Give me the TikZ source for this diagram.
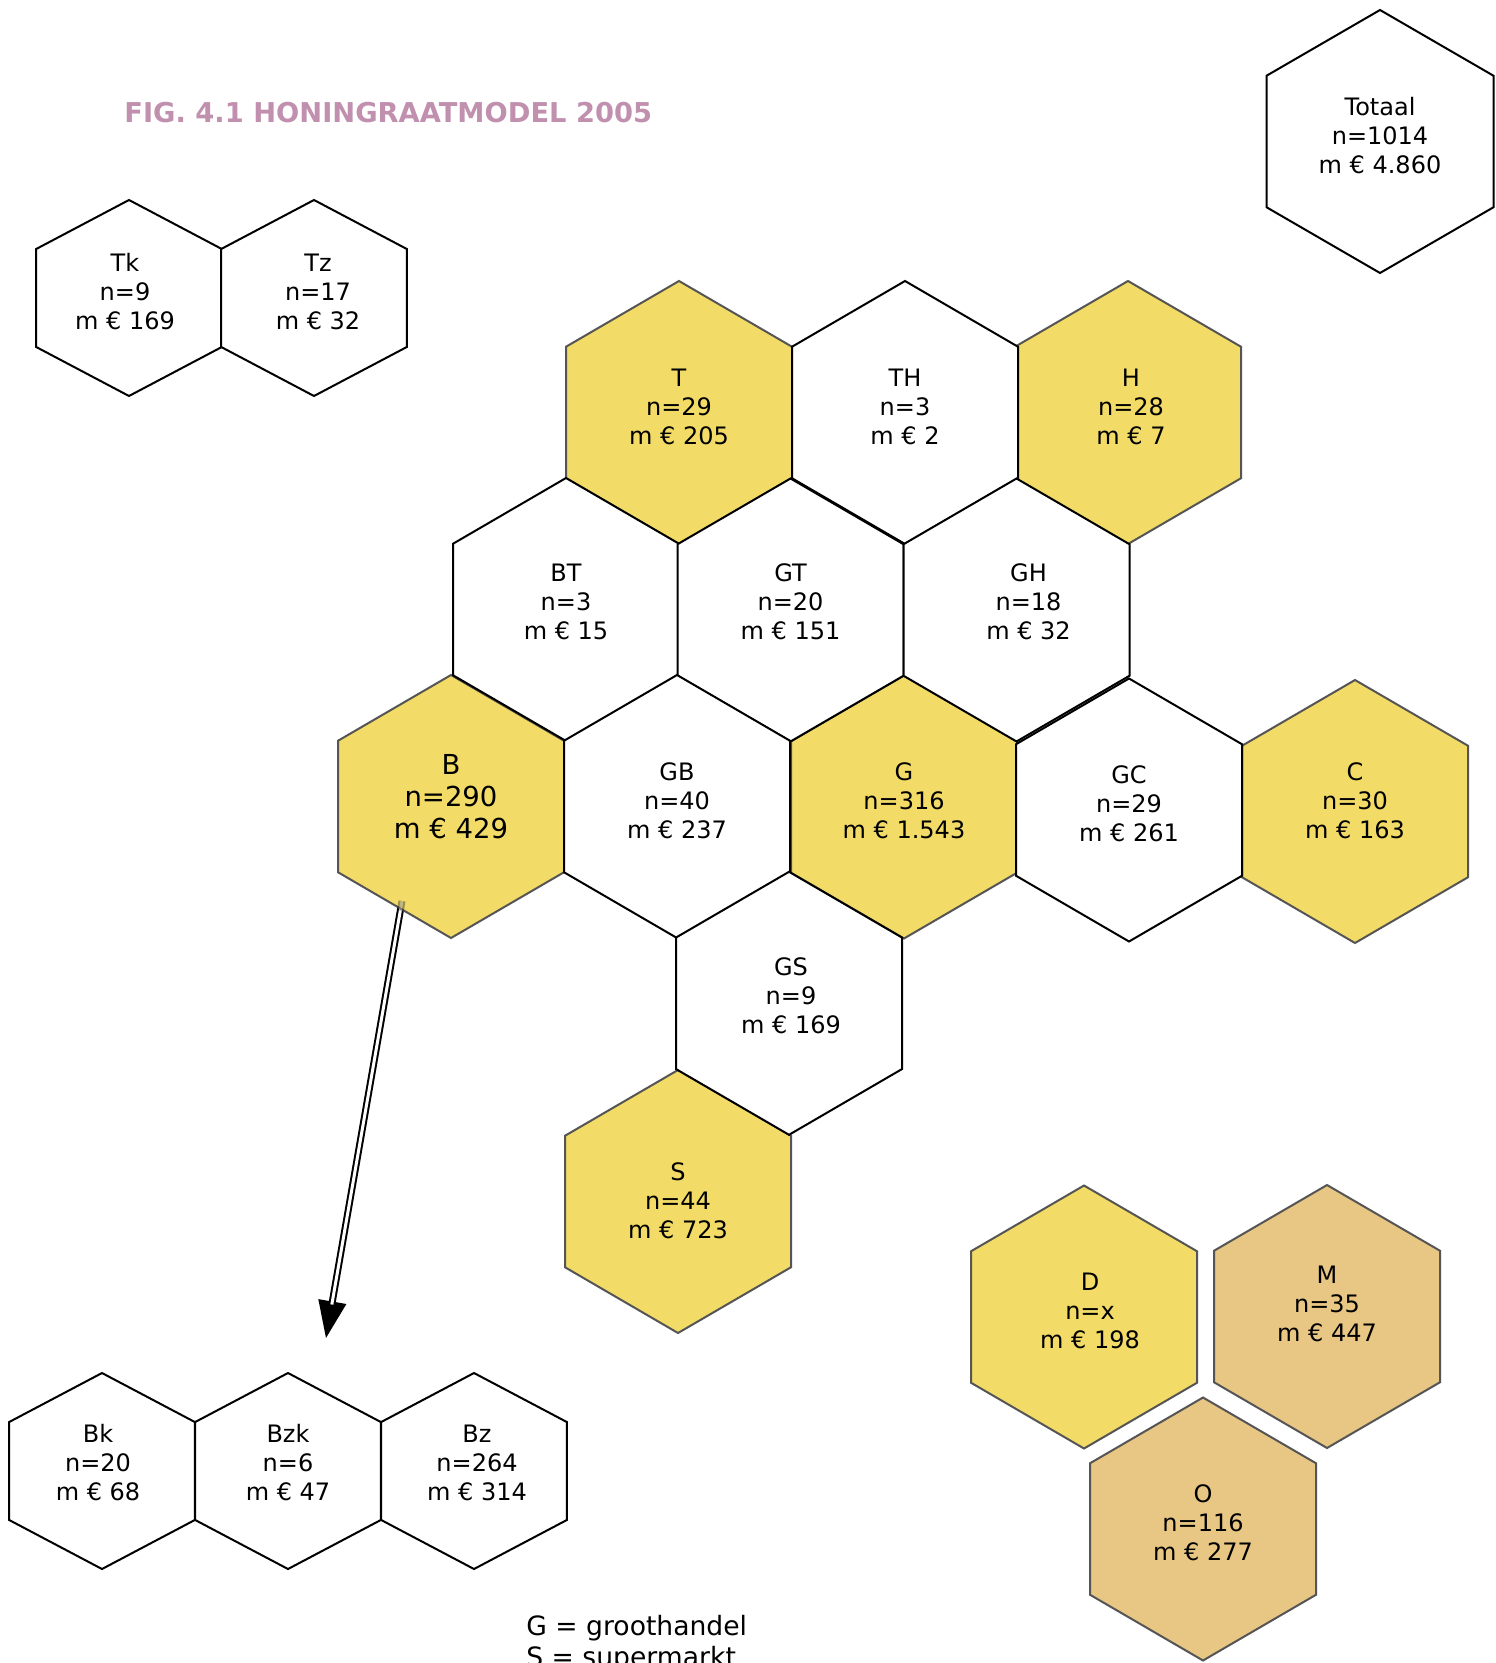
\documentclass[tikz,border=0pt]{standalone}
\usepackage{fontspec}
\setmainfont{DejaVu Sans}
\usetikzlibrary{arrows.meta,calc}
\pgfdeclarelayer{background}
\pgfsetlayers{background,main}
\definecolor{hy}{RGB}{242,219,102}
\definecolor{ht}{RGB}{232,198,132}
\definecolor{hedge}{RGB}{85,85,85}
\definecolor{titlec}{RGB}{192,144,174}
\tikzset{
  hexw/.style={draw=black, line width=1pt, fill=white},
  hexy/.style={draw=hedge, line width=1pt, fill=hy},
  hext/.style={draw=hedge, line width=1pt, fill=ht},
  lbl/.style={align=center, font=\fontsize{12pt}{14.5pt}\selectfont, inner sep=0pt},
  biglbl/.style={font=\fontsize{13.75pt}{16pt}\selectfont},
  legend/.style={anchor=base west, inner sep=0pt, font=\fontsize{13.3pt}{15.5pt}\selectfont},
  dblline/.style={line width=1pt, double=white, double distance=1.5pt},
}
% name, hex style, x, y, half width, radius, text options, text
\newcommand\hexcell[8]{%
  \coordinate (#1c) at (#3,#4);
  \draw[#2] (#3,{#4-#6}) -- ({#3+#5},{#4-#6/2}) -- ({#3+#5},{#4+#6/2}) -- (#3,{#4+#6}) -- ({#3-#5},{#4+#6/2}) -- ({#3-#5},{#4-#6/2}) -- cycle;
  \node[lbl,#7] (#1) at (#3,{#4-6}) {#8};
}
\begin{document}
\begin{tikzpicture}[x=0.5pt,y=-0.5pt]
\useasboundingbox (0,0) rectangle (1495,1663);

\node[anchor=base west, inner sep=0pt, text=titlec, font=\bfseries\fontsize{13.65pt}{16pt}\selectfont] (title) at (124,123) {FIG. 4.1 HONINGRAATMODEL 2005};

% coloured cells first
\hexcell{T}{hexy}{679}{412.5}{113}{131.5}{}{T\\n=29\\m € 205}
\hexcell{H}{hexy}{1128}{412.5}{113}{131.5}{xshift=1.5pt}{H\\n=28\\m € 7}
\hexcell{B}{hexy}{451}{806.5}{113}{131.5}{biglbl,yshift=2pt}{B\\n=290\\m € 429}
\hexcell{G}{hexy}{904}{807}{113}{131.5}{}{G\\n=316\\m € 1.543}
\hexcell{C}{hexy}{1355}{811.5}{113}{131.5}{yshift=2.5pt}{C\\n=30\\m € 163}
\hexcell{S}{hexy}{678}{1201.5}{113}{131.5}{yshift=-2.7pt}{S\\n=44\\m € 723}
\hexcell{D}{hexy}{1084}{1317}{113}{131.5}{xshift=3pt}{D\\n=x\\m € 198}
\hexcell{M}{hext}{1327}{1316.5}{113}{131.5}{yshift=3.5pt}{M\\n=35\\m € 447}
\hexcell{O}{hext}{1203}{1529}{113}{131.5}{}{O\\n=116\\m € 277}

% white cells
\hexcell{TH}{hexw}{905}{412.5}{113}{131.5}{}{TH\\n=3\\m € 2}
\hexcell{BT}{hexw}{566}{609.5}{113}{131.5}{yshift=1pt}{BT\\n=3\\m € 15}
\hexcell{GT}{hexw}{790.5}{610}{113}{131.5}{yshift=1pt}{GT\\n=20\\m € 151}
\hexcell{GH}{hexw}{1016.5}{610}{113}{131.5}{xshift=6pt,yshift=1pt}{GH\\n=18\\m € 32}
\hexcell{GB}{hexw}{677}{806.5}{113}{131.5}{}{GB\\n=40\\m € 237}
\hexcell{GC}{hexw}{1129}{810}{113}{131.5}{}{GC\\n=29\\m € 261}
\hexcell{GS}{hexw}{789}{1003.3}{113}{131.5}{xshift=1pt,yshift=1pt}{GS\\n=9\\m € 169}
\hexcell{Tot}{hexw}{1380}{141.5}{113.5}{131.5}{}{Totaal\\n=1014\\m € 4.860}
\hexcell{Tk}{hexw}{129}{298}{92.8}{98}{xshift=-2pt}{Tk\\n=9\\m € 169}
\hexcell{Tz}{hexw}{314}{298}{92.8}{98}{xshift=2pt}{Tz\\n=17\\m € 32}
\hexcell{Bk}{hexw}{102}{1471}{92.8}{98}{xshift=-2pt,yshift=1pt}{Bk\\n=20\\m € 68}
\hexcell{Bzk}{hexw}{288}{1471}{92.8}{98}{yshift=1pt}{Bzk\\n=6\\m € 47}
\hexcell{Bz}{hexw}{474}{1471}{92.8}{98}{xshift=1.5pt,yshift=1pt}{Bz\\n=264\\m € 314}

\node[legend] (leg1) at (526,1635) {G = groothandel};
\node[legend] (leg2) at (526,1666) {S = supermarkt};

% arrow from B down to the split cells
\coordinate (arrS) at ($(Bc)+(-49,94.5)$);
\coordinate (arrE) at (326,1338);
\coordinate (arrM) at ($(arrS)!0.022!(arrE)$);
\draw[dblline, opacity=0.35] (arrS) -- (arrM);
\begin{pgfonlayer}{background}
  \fill[white] (0,0) rectangle (1495,1663);
  \draw[line width=1pt, -{Triangle[length=18.5pt,width=14pt]}] (arrS) -- (arrE);
  \draw[dblline, shorten >=17pt] (arrS) -- (arrE);
\end{pgfonlayer}
\end{tikzpicture}
\end{document}
